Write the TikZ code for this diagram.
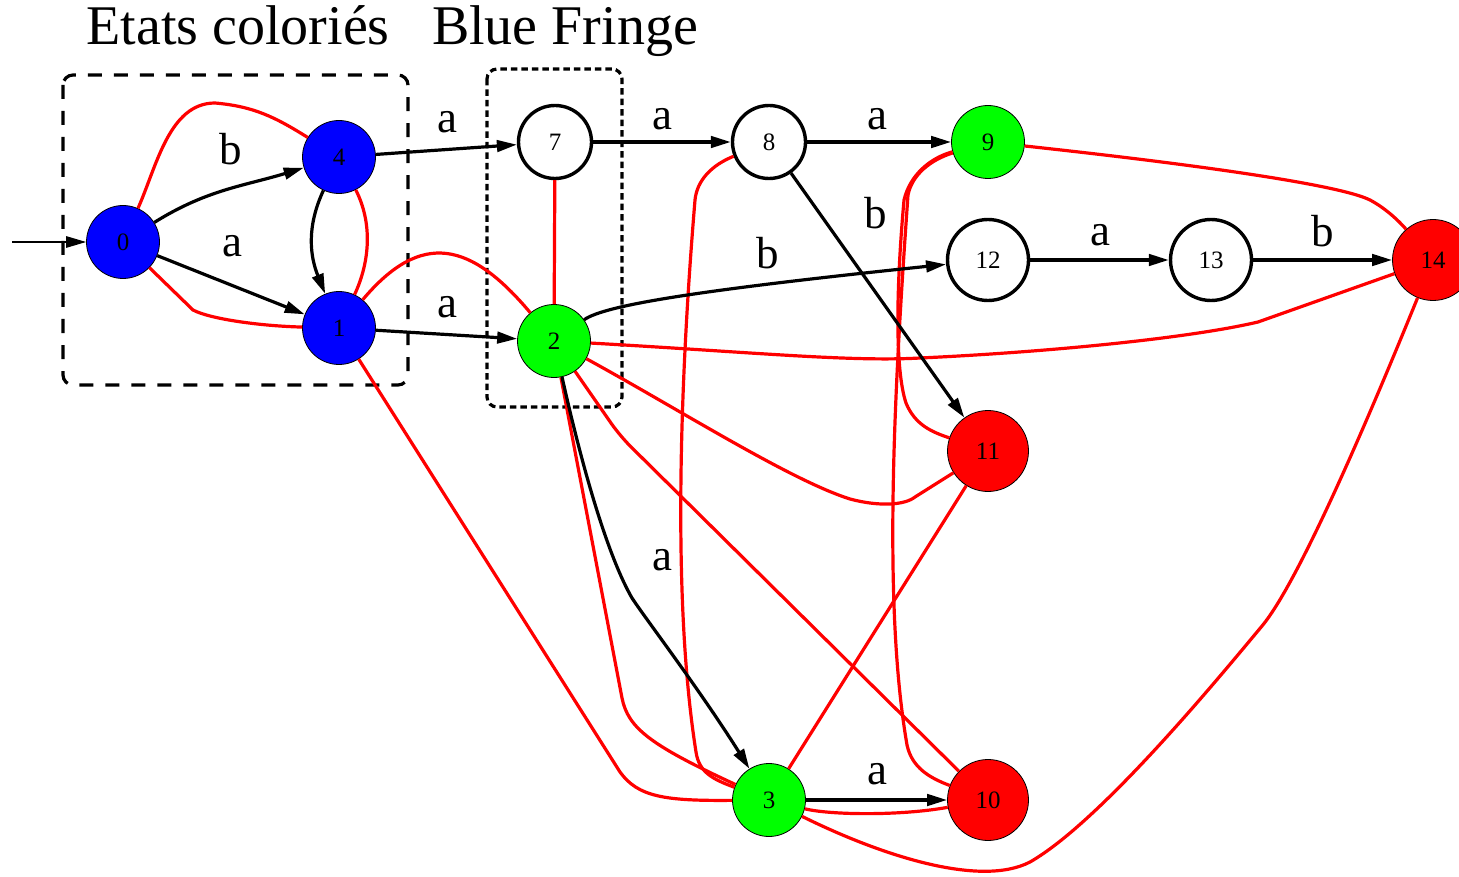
\documentclass[tikz,border=0pt]{standalone}
\usepackage{fontspec}
\setmainfont{Liberation Serif}
\usetikzlibrary{arrows.meta}
\definecolor{colblue}{RGB}{0,0,255}
\definecolor{colgreen}{RGB}{0,255,0}
\definecolor{colred}{RGB}{255,0,0}

\begin{document}
\begin{tikzpicture}[
		% one unit = one pixel of the layout, y grows upwards
		x=1pt, y=1pt,
		>={Triangle[length=20pt,width=11.5pt]},
		state/.style={circle, draw, inner sep=0pt, minimum size=73pt, font=\fontsize{25}{25}\selectfont},
		wide/.style={minimum size=81pt},
		emptystate/.style={state, line width=3.4pt, fill=white},
		coloured/.style={state, line width=0.8pt, fill=#1},
		trans/.style={->, line width=3.2pt},
		incomp/.style={colred, line width=3.2pt},
		lab/.style={inner sep=0pt, font=\fontsize{45}{45}\selectfont},
		heading/.style={anchor=base, inner sep=0pt, font=\fontsize{56}{56}\selectfont}
		]
		
		\useasboundingbox (0,0) rectangle (1459,-877);
		
		% --- 1. HEADINGS AND FRAMES ---
		\node[heading] (tcol) at (238,-45) {Etats coloriés};
		\node[heading] (tfringe) at (565,-45) {Blue Fringe};
		
		\draw[line width=3.2pt, dash pattern=on 14pt off 12pt, rounded corners=10pt] (63,-75) rectangle (408,-385);
		\draw[line width=3.2pt, dash pattern=on 6.5pt off 4pt, rounded corners=10pt] (487,-69) rectangle (622,-407);
		
		% --- 2. STATES ---
		\node[coloured=colblue] (n0) at (123,-242) {0};
		\node[coloured=colblue] (n4) at (339,-157) {4};
		\node[coloured=colblue] (n1) at (339,-328) {1};
		\node[emptystate] (n7) at (555,-142) {7};
		\node[coloured=colgreen] (n2) at (554,-341) {2};
		\node[emptystate] (n8) at (769,-142) {8};
		\node[coloured=colgreen] (n9) at (988,-142) {9};
		\node[emptystate, wide] (n12) at (988,-260) {12};
		\node[emptystate, wide] (n13) at (1211,-260) {13};
		\node[coloured=colred, wide] (n14) at (1433,-260) {14};
		\node[coloured=colred, wide] (n11) at (988,-451) {11};
		\node[coloured=colgreen] (n3) at (769,-800) {3};
		\node[coloured=colred, wide] (n10) at (988,-800) {10};
		
		% --- 3. INCOMPATIBLE PAIRS (red) ---
		\draw[incomp] (n0) to[out=66,in=180,looseness=0.9] (215,-103) to[out=-5,in=148] (n4);
		\draw[incomp] (n0) -- (193,-310) .. controls (210,-319) and (260,-326) .. (n1);
		\draw[incomp] (n4) to[out=-63,in=65,looseness=0.9] (n1);
		\draw[incomp] (n1) to[out=50,in=130,looseness=1.4] (n2);
		\draw[incomp] (n7) -- (n2);
		\draw[incomp] (n1) -- (620,-772) .. controls (638,-797) and (665,-801) .. (n3);
		\draw[incomp] (n2) -- (622,-698) .. controls (628,-728) and (650,-745) .. (n3);
		\draw[incomp] (n2) .. controls (680,-410) and (790,-480) .. (850,-499) .. controls (880,-507) and (905,-505) .. (915,-497) -- (n11);
		\draw[incomp, rounded corners=15pt] (n2) -- (620,-436) -- (n10);
		\draw[incomp] (n2) .. controls (750,-352) and (850,-362) .. (920,-358) .. controls (1050,-352) and (1190,-338) .. (1258,-322) -- (n14);
		\draw[incomp] (n8) .. controls (712,-165) and (697,-180) .. (695,-200) .. controls (680,-380) and (672,-600) .. (696,-752) .. controls (699,-772) and (712,-779) .. (n3);
		\draw[incomp] (n9) .. controls (930,-160) and (912,-175) .. (908,-195) .. controls (895,-380) and (882,-600) .. (907,-745) .. controls (912,-768) and (930,-778) .. (n10);
		\draw[incomp] (n9) .. controls (930,-158) and (910,-175) .. (904,-200) .. controls (896,-290) and (895,-370) .. (906,-403) .. controls (915,-425) and (932,-432) .. (n11);
		\draw[incomp] (n9) .. controls (1200,-165) and (1340,-185) .. (1370,-200) .. controls (1385,-208) and (1398,-220) .. (n14);
		\draw[incomp] (n11) -- (n3);
		\draw[incomp] (n3) .. controls (830,-815) and (900,-816) .. (n10);
		\draw[incomp] (n3) .. controls (880,-855) and (980,-888) .. (1030,-862) .. controls (1100,-822) and (1217,-680) .. (1262,-626) .. controls (1302,-578) and (1380,-390) .. (n14);
		
		% --- 4. TRANSITIONS (black) ---
		\coordinate (init) at (12,-242);
		\draw[->, line width=1.3pt] (init) -- (n0);
		\draw[trans] (n0) to[out=32,in=197] (n4);
		\draw[trans] (n0) -- (n1);
		\draw[trans] (n4) to[out=245,in=112] (n1);
		\draw[trans] (n4) -- (n7);
		\draw[trans] (n1) -- (n2);
		\draw[trans] (n7) -- (n8);
		\draw[trans] (n8) -- (n9);
		\draw[trans] (n8) -- (n11);
		\draw[trans] (n2) .. controls (605,-305) and (700,-290) .. (n12);
		\draw[trans] (n12) -- (n13);
		\draw[trans] (n13) -- (n14);
		\draw[trans] (n2) .. controls (585,-480) and (610,-560) .. (632,-598) .. controls (645,-618) and (700,-690) .. (n3);
		\draw[trans] (n3) -- (n10);
		
		% Labels
		\node[lab] (l04) at (231,-149) {b};
		\node[lab] (l01) at (232,-246) {a};
		\node[lab] (l47) at (447,-122) {a};
		\node[lab] (l12) at (447,-307) {a};
		\node[lab] (l78) at (662,-119) {a};
		\node[lab] (l89) at (877,-119) {a};
		\node[lab] (l811) at (876,-213) {b};
		\node[lab] (l212) at (768,-253) {b};
		\node[lab] (l1213) at (1100,-235) {a};
		\node[lab] (l1314) at (1323,-231) {b};
		\node[lab] (l23) at (662,-560) {a};
		\node[lab] (l310) at (877,-774) {a};
		
	\end{tikzpicture}
\end{document}
